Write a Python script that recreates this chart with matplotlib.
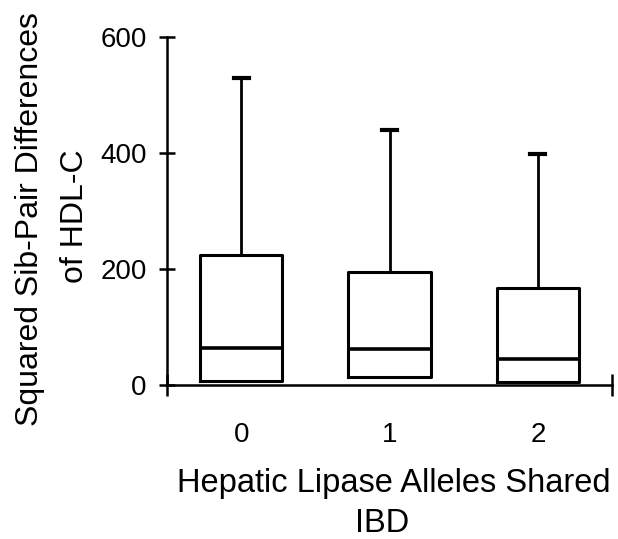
import matplotlib
matplotlib.use("Agg")
import matplotlib.pyplot as plt

plt.rcParams['font.family'] = ['Liberation Sans', 'DejaVu Sans']

# box plot statistics
groups = ["0", "1", "2"]
q1 = [7, 13, 6]
medians = [63, 62, 45]
q3 = [224, 194, 167]
whisker_hi = [529, 440, 398]

fig = plt.figure(figsize=(6.18, 5.39), dpi=100)
ax = fig.add_axes([167 / 618, 154 / 539, 445 / 618, 348 / 539])

stats = []
for i in range(len(groups)):
    stats.append({"med": medians[i], "q1": q1[i], "q3": q3[i],
                  "whislo": q1[i], "whishi": whisker_hi[i], "fliers": []})

parts = ax.bxp(stats, positions=range(len(groups)), widths=0.555, showfliers=False,
               boxprops=dict(color="black", linewidth=2.2),
               medianprops=dict(color="black", linewidth=2.6),
               whiskerprops=dict(color="black", linewidth=2.0),
               capprops=dict(color="black", linewidth=3.0),
               capwidths=0.1)
# no lower whiskers in the original
for cap in parts["caps"][0::2]:
    cap.set_visible(False)
for wh in parts["whiskers"][0::2]:
    wh.set_visible(False)

ax.set_xlim(-0.5, 2.5)
ax.set_ylim(0, 600)
ax.spines["top"].set_visible(False)
ax.spines["right"].set_visible(False)
ax.spines["left"].set_linewidth(1.8)
ax.spines["bottom"].set_linewidth(1.8)

ax.set_yticks([0, 200, 400, 600])
ax.tick_params(axis="y", direction="inout", length=11, width=1.8,
               labelsize=20, pad=9)
ax.set_xticks(range(len(groups)), groups)
ax.tick_params(axis="x", which="major", length=0, labelsize=20, pad=27)
ax.set_xticks([-0.5, 2.5], minor=True)
ax.tick_params(axis="x", which="minor", direction="inout", length=16,
               width=1.8)

# axis titles, placed by baseline
fig.text(394 / 618, 1 - 492 / 539, "Hepatic Lipase Alleles Shared",
         fontsize=23.5, ha="center", va="baseline")
fig.text(382 / 618, 1 - 532 / 539, "IBD", fontsize=23.5, ha="center", va="baseline")
fig.text(38 / 618, 1 - 219 / 539, "Squared Sib-Pair Differences",
         fontsize=23, ha="center", va="baseline", rotation=90,
         rotation_mode="anchor")
fig.text(83 / 618, 1 - 216 / 539, "of HDL-C",
         fontsize=23, ha="center", va="baseline", rotation=90,
         rotation_mode="anchor")

fig.savefig("out.png", dpi=100)
